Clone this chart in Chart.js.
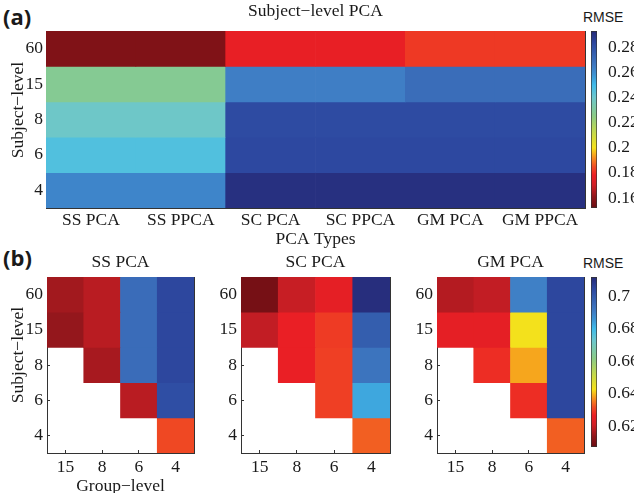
<!DOCTYPE html>
<html>
<head>
<meta charset="utf-8">
<title>Subject-level PCA RMSE</title>
<script src="https://cdn.jsdelivr.net/npm/chart.js@4.4.1/dist/chart.umd.min.js"></script>
<style>
    html, body { margin: 0; padding: 0; background: #fff; width: 634px; height: 493px; overflow: hidden; }
    #page { position: relative; width: 634px; height: 493px; overflow: hidden; }
    canvas { position: absolute; }
    .tag { position: absolute; font: bold 22px "Open Sans", "DejaVu Sans", sans-serif; line-height: 22px; color: #1a1a1a; }
    .cb-name { position: absolute; font: 14px "Liberation Sans", Arial, sans-serif; line-height: 14px; color: #1a1a1a; }
    .ylab { position: absolute; width: 160px; height: 20px; line-height: 20px; text-align: center;
            font: 17.5px "Liberation Serif", "Times New Roman", serif; color: #1a1a1a; transform: rotate(-90deg); }
</style>
</head>
<body>
<div id="page">
    <div class="tag" style="left:3px; top:5px;">(a)</div>
    <div class="tag" style="left:3px; top:246px;">(b)</div>
    <div class="cb-name" style="left:583px; top:10px;">RMSE</div>
    <div class="cb-name" style="left:583px; top:256px;">RMSE</div>

    <canvas id="heatA" width="590" height="250" style="left:0; top:0;"></canvas>
    <canvas id="barA" width="49" height="250" style="left:585px; top:0;"></canvas>

    <canvas id="heatSS" width="200" height="255" style="left:0; top:245px;"></canvas>
    <canvas id="heatSC" width="195" height="248" style="left:200px; top:245px;"></canvas>
    <canvas id="heatGM" width="195" height="248" style="left:395px; top:245px;"></canvas>
    <canvas id="barB" width="49" height="248" style="left:585px; top:245px;"></canvas>

    <div class="ylab" style="left:-63px; top:100px;">Subject&minus;level</div>
    <div class="ylab" style="left:-63px; top:345px;">Subject&minus;level</div>
</div>

<script>
// ---- data ----
const pcaTypes = ['SS PCA', 'SS PPCA', 'SC PCA', 'SC PPCA', 'GM PCA', 'GM PPCA'];
const subjectLevels = ['60', '15', '8', '6', '4'];   // rows, top to bottom
const groupLevels = ['15', '8', '6', '4'];

// (a) subject-level PCA, one array per subject level
const rmseSubj60 = [0.157, 0.157, 0.177, 0.177, 0.182, 0.182];
const rmseSubj15 = [0.228, 0.228, 0.264, 0.264, 0.270, 0.270];
const rmseSubj8  = [0.239, 0.239, 0.282, 0.282, 0.282, 0.282];
const rmseSubj6  = [0.246, 0.246, 0.283, 0.283, 0.283, 0.283];
const rmseSubj4  = [0.262, 0.262, 0.291, 0.291, 0.291, 0.291];
const subjectPcaRmse = [rmseSubj60, rmseSubj15, rmseSubj8, rmseSubj6, rmseSubj4];

// (b) group-level results, rows = subject level, cols = group level (null = not run)
const ssPcaRmse = [
    [0.6155, 0.618, 0.695, 0.705],
    [0.614, 0.618, 0.695, 0.705],
    [null, 0.616, 0.695, 0.705],
    [null, null, 0.618, 0.703],
    [null, null, null, 0.631]
];
const scPcaRmse = [
    [0.609, 0.6195, 0.625, 0.711],
    [0.619, 0.626, 0.6295, 0.699],
    [null, 0.626, 0.630, 0.693],
    [null, null, 0.630, 0.683],
    [null, null, null, 0.633]
];
const gmPcaRmse = [
    [0.6175, 0.619, 0.690, 0.705],
    [0.625, 0.625, 0.643, 0.705],
    [null, 0.628, 0.6385, 0.705],
    [null, null, 0.628, 0.705],
    [null, null, null, 0.633]
];

const rangeA = [0.152, 0.293];
const ticksA = [0.16, 0.18, 0.2, 0.22, 0.24, 0.26, 0.28];
const rangeB = [0.607, 0.712];
const ticksB = [0.62, 0.64, 0.66, 0.68, 0.7];

// ---- colour scale (dark red -> yellow -> cyan -> dark blue) ----
const cmapStops = [
    [0.00, '#6b0d12'], [0.06, '#8e161b'], [0.13, '#d11f26'], [0.185, '#ec1f25'],
    [0.235, '#f04e23'], [0.285, '#f7901e'], [0.34, '#f5e11a'], [0.425, '#c5d94a'],
    [0.52, '#8bcb86'], [0.625, '#6cc7cd'], [0.695, '#3fbbea'], [0.75, '#3d95d4'],
    [0.80, '#3f7bc3'], [0.87, '#3560b0'], [0.93, '#2d48a0'], [1.00, '#262a78']
];

function hexToRgb(h) {
    return [1, 3, 5].map(i => parseInt(h.slice(i, i + 2), 16));
}

function colorFor(v, range) {
    let t = (v - range[0]) / (range[1] - range[0]);
    t = Math.max(0, Math.min(1, t));
    for (let i = 1; i < cmapStops.length; i++) {
        const [t1, c1] = cmapStops[i];
        const [t0, c0] = cmapStops[i - 1];
        if (t <= t1) {
            const f = (t - t0) / (t1 - t0);
            const a = hexToRgb(c0), b = hexToRgb(c1);
            const rgb = a.map((x, k) => Math.round(x + (b[k] - x) * f));
            return `rgb(${rgb.join(',')})`;
        }
    }
    return cmapStops[cmapStops.length - 1][1];
}

Chart.defaults.color = '#1a1a1a';
Chart.defaults.font.family = '"Liberation Serif", "Times New Roman", serif';
Chart.defaults.font.size = 17.5;

const serif = { family: '"Liberation Serif", "Times New Roman", serif', size: 17.5 };
const frame = '#333';

// heatmap drawn as floating bars, one dataset per subject-level row
function makeHeatmap(id, cols, rows, range, cfg) {
    const n = rows.length;
    const datasets = rows.map((vals, i) => {
        const r = n - 1 - i;
        return {
            data: vals.map(v => v == null ? null : [r, r + 1]),
            backgroundColor: vals.map(v => v == null ? 'rgba(0,0,0,0)' : colorFor(v, range)),
            borderWidth: 0
        };
    });

    return new Chart(document.getElementById(id), {
        type: 'bar',
        data: { labels: cols, datasets },
        options: {
            responsive: false,
            animation: false,
            events: [],
            layout: { padding: { left: 0, right: cfg.padRight, top: 0, bottom: 0 } },
            plugins: { legend: { display: false }, tooltip: { enabled: false } },
            datasets: { bar: { grouped: false, barPercentage: 1, categoryPercentage: 1 } },
            scales: {
                x: {
                    grid: { display: true, offset: false, drawOnChartArea: false, tickLength: -3, color: frame },
                    border: { color: frame },
                    ticks: { font: serif, padding: cfg.xPad, maxRotation: 0, autoSkip: false },
                    title: { display: !!cfg.xTitle, text: cfg.xTitle || '', font: serif, padding: { top: 0, bottom: cfg.xTitlePad || 0 } },
                    afterFit: s => { s.height = cfg.bottom; }
                },
                x2: {
                    position: 'top',
                    type: 'category',
                    grid: { display: false },
                    border: { color: frame },
                    ticks: { display: false },
                    title: { display: !!cfg.title, text: cfg.title || '', font: serif, padding: { top: cfg.titlePad, bottom: 0 } },
                    afterFit: s => { s.height = cfg.top; }
                },
                y: {
                    min: 0,
                    max: n,
                    grid: { display: true, drawOnChartArea: false, tickLength: -3, color: frame },
                    border: { color: frame },
                    afterBuildTicks: s => { s.ticks = subjectLevels.map((_, k) => ({ value: k + 0.5 })); },
                    ticks: { font: serif, padding: cfg.yPad, callback: v => subjectLevels[n - 1 - Math.floor(v)] },
                    afterFit: s => { s.width = cfg.left; }
                },
                y2: {
                    position: 'right',
                    min: 0,
                    max: n,
                    grid: { display: false },
                    border: { color: frame },
                    ticks: { display: false },
                    afterFit: s => { s.width = 0; }
                }
            }
        }
    });
}

// colour bar: one floating bar from range min to max filled with the colour scale
function makeColorbar(id, range, ticks, padTop, padBottom) {
    return new Chart(document.getElementById(id), {
        type: 'bar',
        data: {
            labels: ['RMSE'],
            datasets: [{
                data: [range],
                backgroundColor: ctx => {
                    const area = ctx.chart.chartArea;
                    if (!area) return '#888';
                    const g = ctx.chart.ctx.createLinearGradient(0, area.bottom, 0, area.top);
                    cmapStops.forEach(([t, c]) => g.addColorStop(t, c));
                    return g;
                },
                borderColor: frame,
                borderWidth: 1,
                borderSkipped: false
            }]
        },
        options: {
            responsive: false,
            animation: false,
            events: [],
            layout: { padding: { left: 6, right: 0, top: padTop, bottom: padBottom } },
            plugins: { legend: { display: false }, tooltip: { enabled: false } },
            datasets: { bar: { barPercentage: 1, categoryPercentage: 1 } },
            scales: {
                x: { display: false },
                y: {
                    position: 'right',
                    min: range[0],
                    max: range[1],
                    grid: { display: false },
                    border: { display: false },
                    afterBuildTicks: s => { s.ticks = ticks.map(v => ({ value: v })); },
                    ticks: { font: serif, padding: 3, callback: v => String(+v.toFixed(2)) },
                    afterFit: s => { s.width = 37; }
                }
            }
        }
    });
}

// (a)
makeHeatmap('heatA', pcaTypes, subjectPcaRmse, rangeA, {
    padRight: 5, left: 46, top: 31, bottom: 42,
    title: 'Subject\u2212level PCA', titlePad: 1,
    xTitle: 'PCA Types', xPad: 5, yPad: 6
});
makeColorbar('barA', rangeA, ticksA, 31, 42);

// (b)
makeHeatmap('heatSS', groupLevels, ssPcaRmse, rangeB, {
    padRight: 6, left: 47, top: 32, bottom: 47,
    title: 'SS PCA', titlePad: 7,
    xTitle: 'Group\u2212level', xTitlePad: 3, xPad: 7, yPad: 7
});
makeHeatmap('heatSC', groupLevels, scPcaRmse, rangeB, {
    padRight: 5, left: 41, top: 32, bottom: 40,
    title: 'SC PCA', titlePad: 7, xPad: 7, yPad: 7
});
makeHeatmap('heatGM', groupLevels, gmPcaRmse, rangeB, {
    padRight: 6, left: 42, top: 32, bottom: 40,
    title: 'GM PCA', titlePad: 7, xPad: 7, yPad: 7
});
makeColorbar('barB', rangeB, ticksB, 32, 46);
</script>
</body>
</html>
